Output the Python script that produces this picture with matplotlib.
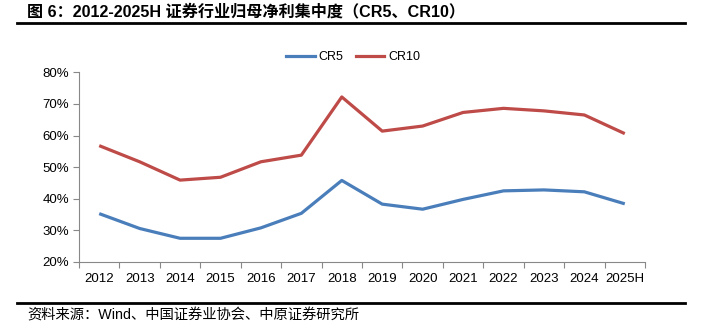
import matplotlib
matplotlib.use("Agg")
import matplotlib.pyplot as plt
from matplotlib.lines import Line2D

plt.rcParams['font.family'] = ['Liberation Sans', 'Noto Sans CJK SC', 'DejaVu Sans']

years = ["2012", "2013", "2014", "2015", "2016", "2017", "2018", "2019",
         "2020", "2021", "2022", "2023", "2024", "2025H"]
cr5 = [35.3, 30.6, 27.5, 27.5, 30.8, 35.4, 45.8, 38.3, 36.7, 39.8, 42.5, 42.8, 42.2, 38.4]
cr10 = [56.8, 51.7, 45.9, 46.8, 51.7, 53.8, 72.2, 61.4, 63.0, 67.3, 68.6, 67.8, 66.5, 60.6]
yticks = [20, 30, 40, 50, 60, 70, 80]

W, H = 705, 336
fig = plt.figure(figsize=(W / 100, H / 100), dpi=100)

ax_l, ax_r, ax_t, ax_b = 79, 645, 72.3, 262
ax = fig.add_axes([ax_l / W, 1 - ax_b / H, (ax_r - ax_l) / W, (ax_b - ax_t) / H])

x = list(range(len(years)))
ax.plot(x, cr5, color='#4A7EBB', lw=2.3, solid_joinstyle='round', solid_capstyle='butt', label='CR5')
ax.plot(x, cr10, color='#BE4B48', lw=2.3, solid_joinstyle='round', solid_capstyle='butt', label='CR10')

ax.set_xlim(-0.5, len(years) - 0.5)
ax.set_ylim(20, 80)
ax.set_yticks(yticks)
ax.set_yticklabels([f"{v}%" for v in yticks], fontsize=9.5)
ax.set_xticks(x)
ax.set_xticklabels(years, fontsize=9.5)
ax.set_xticks([i - 0.5 for i in range(len(years) + 1)], minor=True)
ax.tick_params(axis='x', which='major', length=0, pad=8)
ax.tick_params(axis='x', which='minor', length=4, color='#888888', width=0.8, direction='out')
ax.tick_params(axis='y', which='major', length=4, color='#888888', width=0.8, direction='out', pad=3)

for s in ['top', 'right']:
    ax.spines[s].set_visible(False)
for s in ['left', 'bottom']:
    ax.spines[s].set_color('#888888')
    ax.spines[s].set_linewidth(0.8)

leg = fig.legend(handles=[Line2D([], [], color='#4A7EBB', lw=2.3), Line2D([], [], color='#BE4B48', lw=2.3)],
                 labels=['CR5', 'CR10'], loc='center', bbox_to_anchor=(353 / W, 1 - 57 / H),
                 ncol=2, frameon=False, fontsize=9, handlelength=2.3, handletextpad=0.3,
                 columnspacing=1.0)

fig.text(27 / W, 1 - 11 / H, "图 6：2012-2025H 证券行业归母净利集中度（CR5、CR10）",
         fontsize=11.6, fontweight='bold', ha='left', va='center',
         family=['Liberation Sans', 'Noto Sans CJK SC'])
fig.add_artist(Line2D([17 / W, 685 / W], [1 - 23.3 / H, 1 - 23.3 / H], color='black', lw=2))
fig.add_artist(Line2D([17 / W, 685 / W], [1 - 302.7 / H, 1 - 302.7 / H], color='black', lw=2))
fig.text(27 / W, 1 - 316 / H, "资料来源：Wind、中国证券业协会、中原证券研究所",
         fontsize=10.3, ha='left', va='center', family=['Liberation Sans', 'Noto Sans CJK SC'])

fig.savefig("out.png", dpi=100)
